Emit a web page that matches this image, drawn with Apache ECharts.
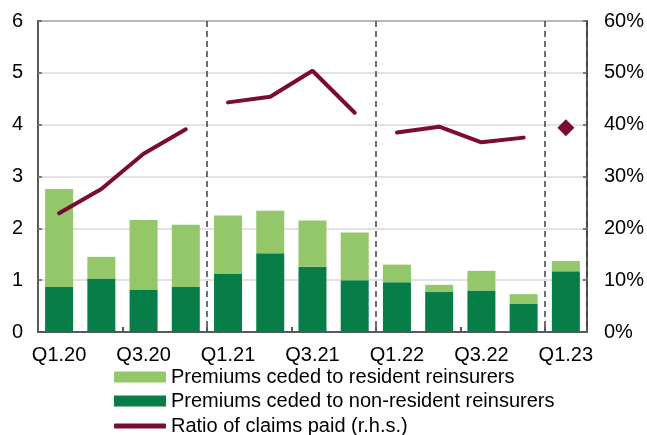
<!DOCTYPE html>
<html>
<head>
<meta charset="utf-8">
<script src="https://cdn.jsdelivr.net/npm/echarts@6/dist/echarts.min.js"></script>
<style>
  html, body { margin: 0; padding: 0; background: #fff; }
  #chart { width: 647px; height: 435px; }
</style>
</head>
<body>
<div id="chart"></div>
<script>
// quarters
var categories = ['Q1.20', 'Q2.20', 'Q3.20', 'Q4.20', 'Q1.21', 'Q2.21', 'Q3.21', 'Q4.21',
                  'Q1.22', 'Q2.22', 'Q3.22', 'Q4.22', 'Q1.23'];
// premiums ceded (lhs)
var nonResident = [0.87, 1.03, 0.82, 0.87, 1.13, 1.52, 1.26, 1.00, 0.96, 0.77, 0.80, 0.54, 1.17];
var resident    = [1.89, 0.42, 1.34, 1.20, 1.12, 0.82, 0.89, 0.92, 0.34, 0.14, 0.38, 0.19, 0.20];
// ratio of claims paid, % (rhs) - one piece per year
var ratio2020 = [22.9, 27.6, 34.4, 39.1];
var ratio2021 = [44.3, 45.4, 50.4, 42.3];
var ratio2022 = [38.5, 39.6, 36.6, 37.5];
var ratio2023 = [39.4];

var lineName = 'Ratio of claims paid (r.h.s.)';
var maroon = '#7b0a35';
var frame = '#595959';
var font = 'Liberation Sans, Arial, sans-serif';

// place a year's values at its offset, nulls elsewhere
function place(vals, start) {
    var out = categories.map(function () { return null; });
    vals.forEach(function (v, i) { out[start + i] = v; });
    return out;
}

function yearLine(vals, start) {
    return {
        name: lineName,
        type: 'line',
        yAxisIndex: 1,
        data: place(vals, start),
        symbol: 'none',
        lineStyle: { color: maroon, width: 4, cap: 'round' },
        itemStyle: { color: maroon },
        z: 5
    };
}

var chart = echarts.init(document.getElementById('chart'));
chart.setOption({
    animation: false,
    backgroundColor: '#fff',
    textStyle: { fontFamily: font },
    grid: {
        left: 38, right: 59, top: 21, bottom: 103,
        show: true, borderColor: frame, borderWidth: 2
    },
    legend: [
        {
            orient: 'vertical',
            left: 109, top: 362,
            itemWidth: 52, itemHeight: 11, itemGap: 4,
            textStyle: { fontSize: 20, color: '#000', fontFamily: font },
            data: [
                { name: 'Premiums ceded to resident reinsurers', icon: 'rect' },
                { name: 'Premiums ceded to non-resident reinsurers', icon: 'rect' }
            ]
        },
        {
            orient: 'vertical',
            left: 109, top: 411,
            itemWidth: 52, itemHeight: 5,
            textStyle: { fontSize: 20, color: '#000', fontFamily: font },
            data: [{ name: lineName, icon: 'roundRect' }]
        }
    ],
    xAxis: {
        type: 'category',
        data: categories,
        axisLine: { show: true, lineStyle: { color: frame, width: 2 } },
        axisTick: { show: true, inside: true, length: 5, lineStyle: { color: frame, width: 2 } },
        axisLabel: { interval: 1, fontSize: 20, color: '#000', margin: 13 },
        splitLine: {
            show: true,
            interval: function (i) { return i > 0 && i % 4 === 0; },
            lineStyle: { color: '#404040', type: [6, 4], width: 1.5 }
        }
    },
    yAxis: [
        {
            type: 'value', min: 0, max: 6, interval: 1,
            axisLine: { show: false },
            axisTick: { show: true, inside: true, length: 4, lineStyle: { color: frame, width: 1.5 } },
            axisLabel: { fontSize: 20, color: '#000', margin: 15 },
            splitLine: { lineStyle: { color: '#d9d9d9', width: 1.5 } }
        },
        {
            type: 'value', min: 0, max: 60, interval: 10,
            axisLine: { show: false },
            axisTick: { show: true, inside: true, length: 4, lineStyle: { color: frame, width: 1.5 } },
            axisLabel: { fontSize: 20, color: '#000', margin: 17, formatter: '{value}%' },
            splitLine: { show: false }
        }
    ],
    series: [
        {
            name: 'Premiums ceded to non-resident reinsurers',
            type: 'bar', stack: 'prem', barWidth: 28,
            data: nonResident,
            itemStyle: { color: '#077d48' }
        },
        {
            name: 'Premiums ceded to resident reinsurers',
            type: 'bar', stack: 'prem', barWidth: 28,
            data: resident,
            itemStyle: { color: '#93c769' }
        },
        yearLine(ratio2020, 0),
        yearLine(ratio2021, 4),
        yearLine(ratio2022, 8),
        {
            name: 'Ratio 2023',
            type: 'scatter',
            yAxisIndex: 1,
            data: place(ratio2023, 12),
            symbol: 'diamond', symbolSize: 17,
            itemStyle: { color: maroon, opacity: 1 },
            z: 5
        }
    ]
});
</script>
</body>
</html>
